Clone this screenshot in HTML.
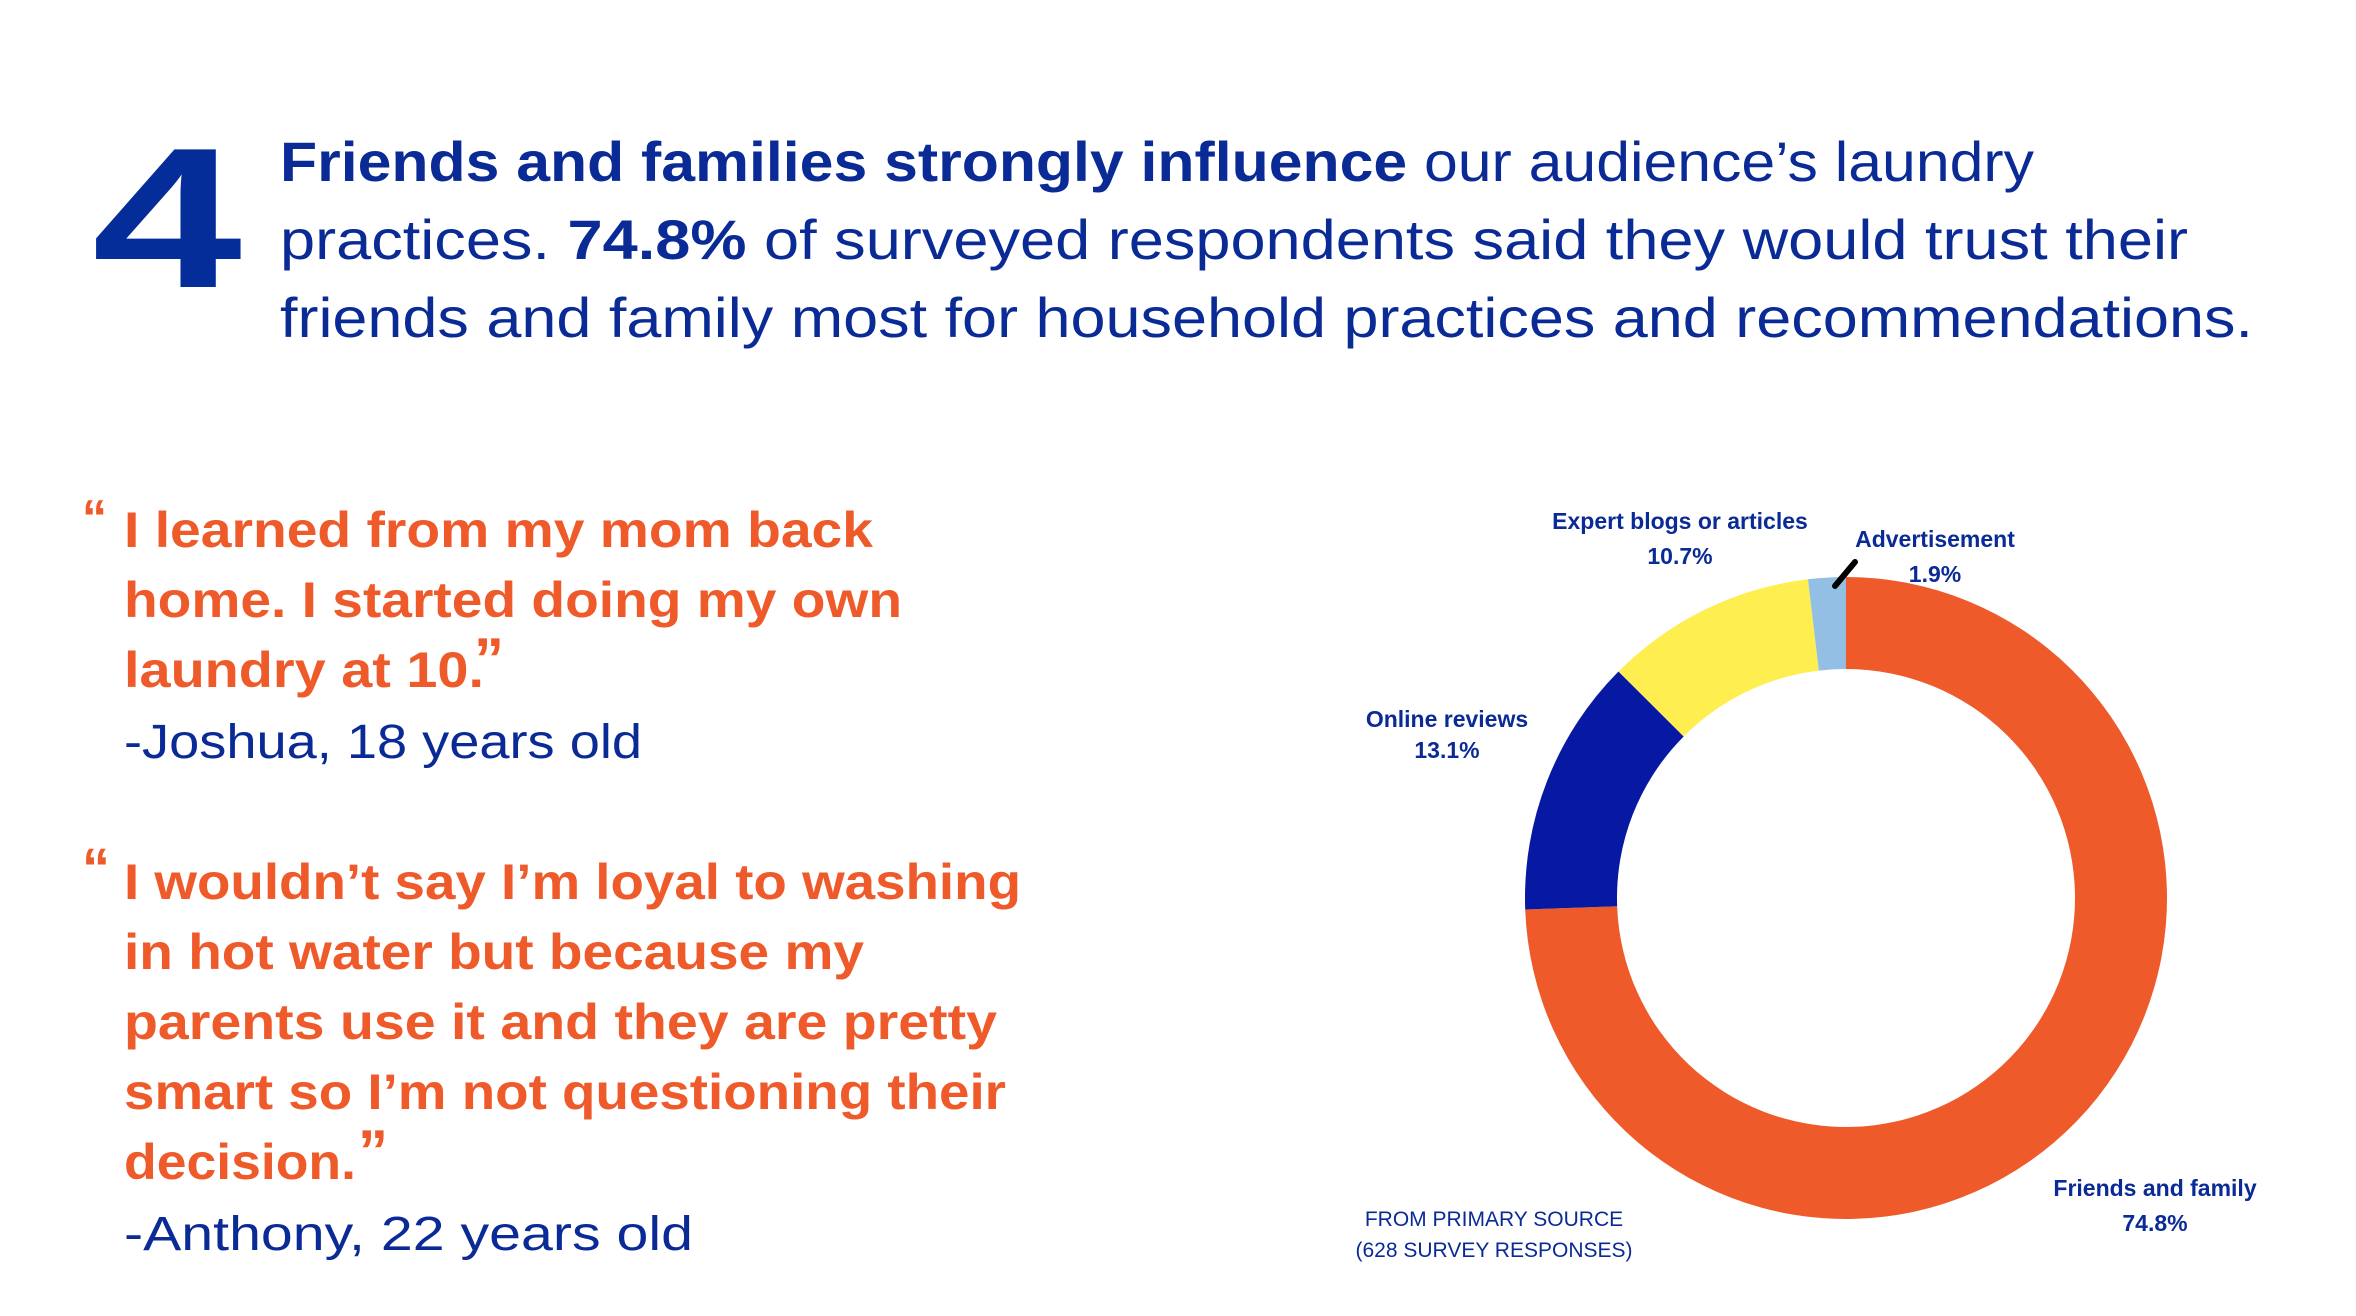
<!DOCTYPE html>
<html><head><meta charset="utf-8"><style>
html,body{margin:0;padding:0;background:#fff;}
svg{display:block;}
text{font-family:"Liberation Sans",sans-serif;}
.hb{font-weight:bold;fill:#0A2A96;}
.hr{fill:#0A2A96;}
.q{font-weight:bold;fill:#EE5A2A;font-size:50px;}
.a{fill:#0A2A96;font-size:48px;}
.lab{font-weight:bold;fill:#0A2A96;font-size:23px;text-anchor:middle;}
.src{fill:#0A2A96;font-size:21px;text-anchor:middle;}
</style></head><body>
<svg id="root" width="2356" height="1316" viewBox="0 0 2356 1316">
<text x="92" y="287" font-size="200" font-weight="bold" fill="#042D99" textLength="150" lengthAdjust="spacingAndGlyphs">4</text>
<g>
<text x="280" y="181" font-size="56" textLength="1754" lengthAdjust="spacingAndGlyphs"><tspan class="hb">Friends and families strongly influence</tspan><tspan class="hr"> our audience’s laundry</tspan></text>
<text x="280" y="259" font-size="56" textLength="1908" lengthAdjust="spacingAndGlyphs"><tspan class="hr">practices. </tspan><tspan class="hb">74.8%</tspan><tspan class="hr"> of surveyed respondents said they would trust their</tspan></text>
<text x="280" y="337" font-size="56" class="hr" textLength="1973" lengthAdjust="spacingAndGlyphs">friends and family most for household practices and recommendations.</text>
</g>
<g>
<text x="82" y="535" class="q" font-size="56">“</text>
<text x="124" y="547" class="q" textLength="749" lengthAdjust="spacingAndGlyphs">I learned from my mom back</text>
<text x="124" y="617" class="q" textLength="778" lengthAdjust="spacingAndGlyphs">home. I started doing my own</text>
<text x="124" y="687" class="q" textLength="360" lengthAdjust="spacingAndGlyphs">laundry at 10.</text>
<text x="474" y="680" class="q" style="font-size:60px">”</text>
<text x="124" y="758" class="a" textLength="518" lengthAdjust="spacingAndGlyphs">-Joshua, 18 years old</text>
</g>
<g>
<text x="82" y="887" class="q" style="font-size:56px">“</text>
<text x="124" y="899" class="q" textLength="897" lengthAdjust="spacingAndGlyphs">I wouldn’t say I’m loyal to washing</text>
<text x="124" y="969" class="q" textLength="740" lengthAdjust="spacingAndGlyphs">in hot water but because my</text>
<text x="124" y="1039" class="q" textLength="873" lengthAdjust="spacingAndGlyphs">parents use it and they are pretty</text>
<text x="124" y="1109" class="q" textLength="882" lengthAdjust="spacingAndGlyphs">smart so I’m not questioning their</text>
<text x="124" y="1179" class="q" textLength="232" lengthAdjust="spacingAndGlyphs">decision.</text>
<text x="358" y="1172" class="q" style="font-size:60px">”</text>
<text x="124" y="1250" class="a" textLength="569" lengthAdjust="spacingAndGlyphs">-Anthony, 22 years old</text>
</g>
<g id="donut"></g>
<line x1="1835" y1="586" x2="1855" y2="562" stroke="#000" stroke-width="6" stroke-linecap="round"/>
<g>
<text x="1680" y="529" class="lab">Expert blogs or articles</text>
<text x="1680" y="564" class="lab">10.7%</text>
<text x="1935" y="547" class="lab">Advertisement</text>
<text x="1935" y="582" class="lab">1.9%</text>
<text x="1447" y="727" class="lab">Online reviews</text>
<text x="1447" y="758" class="lab">13.1%</text>
<text x="2155" y="1196" class="lab">Friends and family</text>
<text x="2155" y="1231" class="lab">74.8%</text>
<text x="1494" y="1226" class="src">FROM PRIMARY SOURCE</text>
<text x="1494" y="1257" class="src">(628 SURVEY RESPONSES)</text>
</g>
</svg>
<script>
const categories = ["Friends and family","Online reviews","Expert blogs or articles","Advertisement"];
const values = [74.8, 13.1, 10.7, 1.9];
const sliceColors = ["#EE5A2A","#0718A3","#FEEE50","#93BFE5"];
const sliceNames = ["slice-friends-family","slice-online-reviews","slice-expert-blogs","slice-advertisement"];
const cx = 1846, cy = 898, R = 321, r = 229;
const g = document.getElementById('donut');
const total = values.reduce((a,b)=>a+b,0);
function pt(rad, frac){ const a = frac*2*Math.PI - Math.PI/2; return [cx+rad*Math.cos(a), cy+rad*Math.sin(a)]; }
let acc = 0;
values.forEach((v,i)=>{
  const f0 = acc/total, f1 = (acc+v)/total; acc += v;
  const large = (f1-f0) > 0.5 ? 1 : 0;
  const [x0,y0]=pt(R,f0),[x1,y1]=pt(R,f1),[x2,y2]=pt(r,f1),[x3,y3]=pt(r,f0);
  const p = document.createElementNS('http://www.w3.org/2000/svg','path');
  p.setAttribute('d',`M${x0},${y0} A${R},${R} 0 ${large} 1 ${x1},${y1} L${x2},${y2} A${r},${r} 0 ${large} 0 ${x3},${y3} Z`);
  p.setAttribute('fill',sliceColors[i]);
  
  
  g.appendChild(p);
});
</script>
</body></html>
